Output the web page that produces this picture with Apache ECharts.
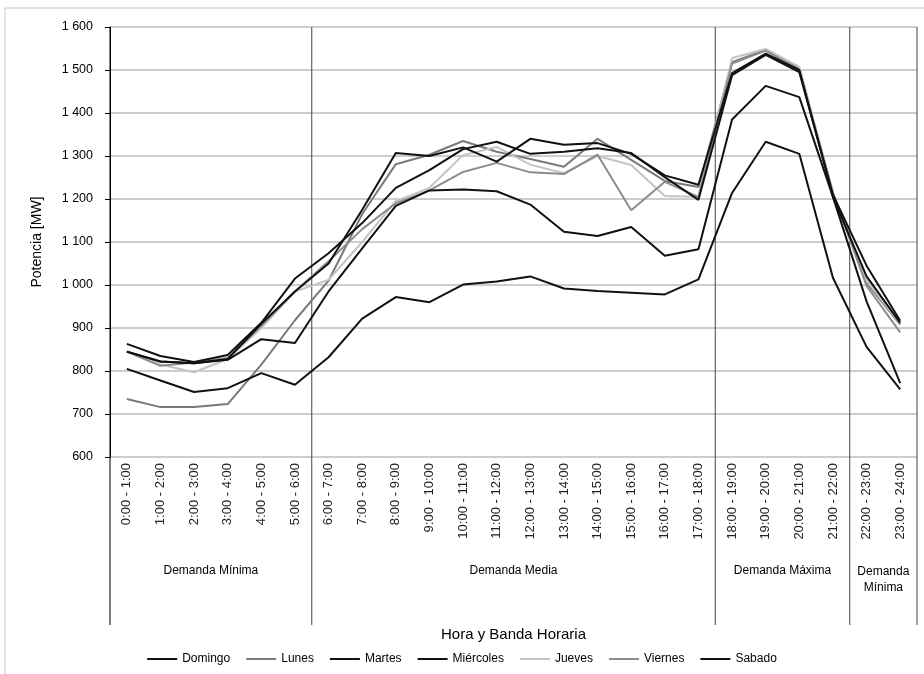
<!DOCTYPE html>
<html>
<head>
<meta charset="utf-8">
<script src="https://cdn.jsdelivr.net/npm/echarts@6/dist/echarts.min.js"></script>
<style>
  html, body { margin: 0; padding: 0; background: #fff; }
  #main { width: 924px; height: 674px; }
</style>
</head>
<body>
<div id="main"></div>
<script>
// datos
var horas = ['0:00 - 1:00', '1:00 - 2:00', '2:00 - 3:00', '3:00 - 4:00', '4:00 - 5:00', '5:00 - 6:00',
  '6:00 - 7:00', '7:00 - 8:00', '8:00 - 9:00', '9:00 - 10:00', '10:00 - 11:00', '11:00 - 12:00',
  '12:00 - 13:00', '13:00 - 14:00', '14:00 - 15:00', '15:00 - 16:00', '16:00 - 17:00', '17:00 - 18:00',
  '18:00 - 19:00', '19:00 - 20:00', '20:00 - 21:00', '21:00 - 22:00', '22:00 - 23:00', '23:00 - 24:00'];

var domingo   = [805, 778, 751, 760, 795, 768, 832, 922, 972, 960, 1001, 1008, 1020, 992, 986, 982, 978, 1013, 1214, 1333, 1305, 1017, 856, 757];
var lunes     = [735, 716, 716, 723, 815, 918, 1010, 1165, 1281, 1303, 1335, 1310, 1293, 1275, 1340, 1291, 1242, 1228, 1518, 1547, 1505, 1212, 1005, 908];
var martes    = [845, 822, 818, 828, 910, 985, 1050, 1175, 1307, 1300, 1320, 1287, 1340, 1326, 1330, 1305, 1255, 1233, 1493, 1538, 1500, 1205, 1020, 912];
var miercoles = [863, 835, 821, 837, 912, 1015, 1074, 1144, 1226, 1267, 1316, 1333, 1305, 1310, 1318, 1307, 1251, 1198, 1488, 1535, 1495, 1210, 1045, 917];
var jueves    = [845, 815, 797, 828, 900, 985, 1012, 1100, 1195, 1226, 1302, 1321, 1280, 1260, 1300, 1279, 1207, 1205, 1528, 1549, 1507, 1215, 1010, 910];
var viernes   = [845, 812, 820, 830, 905, 985, 1055, 1130, 1190, 1220, 1263, 1284, 1262, 1258, 1303, 1174, 1240, 1205, 1515, 1545, 1500, 1215, 998, 890];
var sabado    = [845, 822, 818, 826, 874, 865, 985, 1085, 1184, 1220, 1222, 1218, 1187, 1124, 1114, 1135, 1068, 1083, 1385, 1463, 1437, 1205, 962, 772];

var dias = ['Domingo', 'Lunes', 'Martes', 'Miércoles', 'Jueves', 'Viernes', 'Sabado'];
var valores = [domingo, lunes, martes, miercoles, jueves, viernes, sabado];
var colores = ['#111111', '#7a7a7a', '#111111', '#111111', '#c4c4c4', '#8c8c8c', '#111111'];

// bandas horarias (indice de categoria donde empieza cada una)
var bandas = ['Demanda Mínima', 'Demanda Media', 'Demanda Máxima', 'Demanda\nMínima'];
var limitesBanda = [0, 6, 18, 22, 24];

var fuente = '"Liberation Sans", Arial, sans-serif';

var myChart = echarts.init(document.getElementById('main'));

var series = [];
for (var i = 0; i < dias.length; i++) {
  series.push({
    name: dias[i],
    type: 'line',
    data: valores[i],
    symbol: 'none',
    lineStyle: { color: colores[i], width: 2 },
    itemStyle: { color: colores[i] },
    z: (colores[i] === '#111111') ? 3 : 2
  });
}

var option = {
  animation: false,
  backgroundColor: '#fff',
  textStyle: { fontFamily: fuente },
  grid: { left: 110, right: 7, top: 27, bottom: 217 },
  legend: {
    data: dias,
    top: 648,
    left: 'center',
    icon: 'rect',
    itemWidth: 30,
    itemHeight: 2,
    itemGap: 16,
    textStyle: { fontSize: 12, color: '#000', fontFamily: fuente }
  },
  xAxis: {
    type: 'category',
    data: horas,
    boundaryGap: true,
    name: 'Hora y Banda Horaria',
    nameLocation: 'middle',
    nameGap: 170,
    nameTextStyle: { fontSize: 15, color: '#000' },
    axisLine: { show: false },
    axisTick: { show: false },
    axisLabel: { rotate: 90, fontSize: 13, color: '#222', margin: 6, interval: 0 }
  },
  yAxis: {
    type: 'value',
    min: 600,
    max: 1600,
    interval: 100,
    name: 'Potencia [MW]',
    nameLocation: 'middle',
    nameGap: 66,
    nameTextStyle: { fontSize: 14, color: '#000' },
    axisLine: { show: true, lineStyle: { color: '#000', width: 1 } },
    axisTick: { show: true, length: 5, lineStyle: { color: '#000' } },
    axisLabel: {
      fontSize: 12.5, color: '#000', margin: 17,
      formatter: function (v) {
        var s = String(v);
        return s.length > 3 ? s.slice(0, s.length - 3) + ' ' + s.slice(-3) : s;
      }
    },
    splitLine: { show: true, lineStyle: { color: '#bdbdbd', width: 1.5 } }
  },
  series: series
};

myChart.setOption(option);

// separadores de bandas y sus rotulos, a partir de las escalas del grafico
var x0 = myChart.convertToPixel({ xAxisIndex: 0 }, 0);
var x1 = myChart.convertToPixel({ xAxisIndex: 0 }, 1);
var paso = x1 - x0;
function bordeX(k) { return x0 - paso / 2 + k * paso; }
var yArriba = myChart.convertToPixel({ yAxisIndex: 0 }, 1600);
var yAbajo = 625;

var graficos = [{
  type: 'rect',
  shape: { x: 5, y: 8, width: 1000, height: 1000 },
  style: { fill: 'none', stroke: '#c8c8c8', lineWidth: 1 },
  silent: true
}];
for (var k = 0; k < limitesBanda.length; k++) {
  graficos.push({
    type: 'line',
    shape: { x1: bordeX(limitesBanda[k]), y1: yArriba, x2: bordeX(limitesBanda[k]), y2: yAbajo },
    style: { stroke: k === 0 ? '#000' : '#444', lineWidth: 1 },
    silent: true
  });
}
for (var b = 0; b < bandas.length; b++) {
  graficos.push({
    type: 'text',
    x: (bordeX(limitesBanda[b]) + bordeX(limitesBanda[b + 1])) / 2,
    y: bandas[b].indexOf('\n') >= 0 ? 580 : 571,
    style: {
      text: bandas[b],
      fill: '#000',
      font: '12px ' + fuente,
      align: 'center',
      verticalAlign: 'middle',
      lineHeight: 16
    },
    silent: true
  });
}
myChart.setOption({ graphic: graficos });
</script>
</body>
</html>
